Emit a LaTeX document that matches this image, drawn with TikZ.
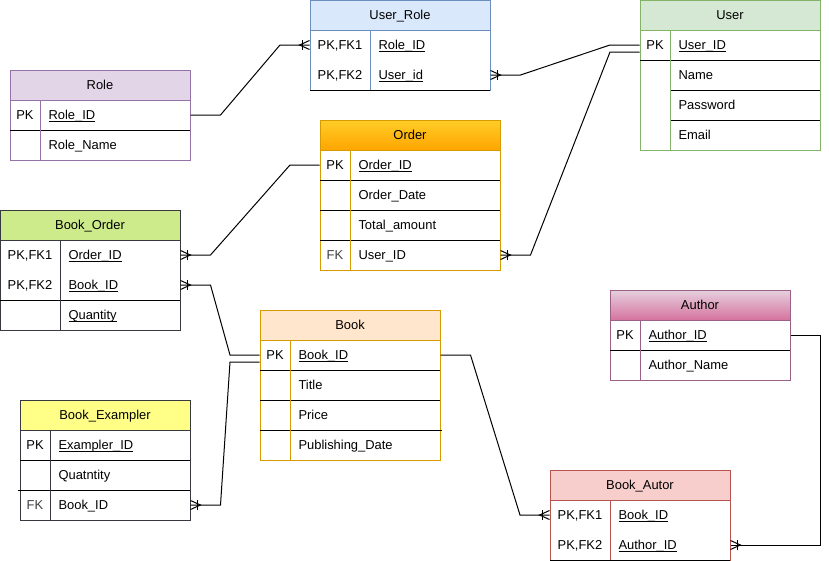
\documentclass[tikz,border=0pt]{standalone}
\usepackage{fontspec}
\setmainfont{Liberation Sans}
\usetikzlibrary{calc}

\definecolor{roleFill}{HTML}{E1D5E7}
\definecolor{roleLine}{HTML}{9673A6}
\definecolor{urFill}{HTML}{DAE8FC}
\definecolor{urLine}{HTML}{6C8EBF}
\definecolor{userFill}{HTML}{D5E8D4}
\definecolor{userLine}{HTML}{82B366}
\definecolor{orderTop}{HTML}{FFCD28}
\definecolor{orderBot}{HTML}{FFA500}
\definecolor{orderLine}{HTML}{D79B00}
\definecolor{boFill}{HTML}{CDEB8B}
\definecolor{darkLine}{HTML}{36393D}
\definecolor{bookFill}{HTML}{FFE6CC}
\definecolor{authTop}{HTML}{E6D0DE}
\definecolor{authBot}{HTML}{D5739D}
\definecolor{authLine}{HTML}{996185}
\definecolor{bexFill}{HTML}{FFFF88}
\definecolor{baFill}{HTML}{F8CECC}
\definecolor{baLine}{HTML}{B85450}

% underlined key field
\newcommand{\ulk}[1]{\setbox0\hbox{#1}\rlap{\rule[-1.3pt]{\wd0}{0.6pt}}\box0}

\tikzset{every picture/.style={line width=0.75pt},
  hdr/.style={minimum width=135pt, minimum height=22.5pt, inner sep=0pt, text height=7pt, text depth=0pt, font=\fontsize{9.7}{11}\selectfont},
  kcol/.style={inner sep=0pt, text height=7pt, text depth=0pt, font=\fontsize{9.7}{11}\selectfont},
  fcol/.style={kcol, anchor=west},
  crow/.pic={\draw (0,-4.5) -- (10,0) -- (0,4.5); \draw (7,-5) -- (7,5);}
}

\begin{document}
\begin{tikzpicture}[x=0.75pt,y=0.75pt,yscale=-1,xscale=1]
\useasboundingbox (0,0) rectangle (829,561);

%Table: Role
\node [hdr, fill=roleFill, draw=roleLine] (roleT) at (100,85) {Role};
\draw [roleLine, fill=white] (10,100) rectangle (190,160);
\draw (10,130) -- (190,130);
\draw [roleLine] (40,100) -- (40,160);
\node [kcol] (roleK1) at (25,115) {PK};
\node [fcol] (roleF1) at (48,115) {\ulk{Role\_ID}};
\node [fcol] (roleF2) at (48,145) {Role\_Name};

%Table: User_Role
\node [hdr, fill=urFill, draw=urLine] (urT) at (400,15) {User\_Role};
\draw [urLine, fill=white] (310,30) rectangle (490,90);
\draw [urLine] (370,30) -- (370,90);
\draw (310,90) -- (490,90);
\node [kcol] (urK1) at (340,45) {PK,FK1};
\node [kcol] (urK2) at (340,75) {PK,FK2};
\node [fcol] (urF1) at (378,45) {\ulk{Role\_ID}};
\node [fcol] (urF2) at (378,75) {\ulk{User\_id}};

%Table: User
\node [hdr, fill=userFill, draw=userLine] (userT) at (730,15) {User};
\draw [userLine, fill=white] (640,30) rectangle (820,150);
\draw (640,60) -- (820,60);
\draw (670,90) -- (820,90);
\draw (670,120) -- (820,120);
\draw [userLine] (670,30) -- (670,150);
\node [kcol] (userK1) at (655,45) {PK};
\node [fcol] (userF1) at (678,45) {\ulk{User\_ID}};
\node [fcol] (userF2) at (678,75) {Name};
\node [fcol] (userF3) at (678,105) {Password};
\node [fcol] (userF4) at (678,135) {Email};

%Table: Order
\node [hdr, top color=orderTop, bottom color=orderBot, draw=orderLine] (orderT) at (410,135) {Order};
\draw [orderLine, fill=white] (320,150) rectangle (500,270);
\draw (320,180) -- (500,180);
\draw (320,210) -- (500,210);
\draw (320,240) -- (500,240);
\draw [orderLine] (350,150) -- (350,270);
\node [kcol] (orderK1) at (335,165) {PK};
\node [kcol, text=black!75] (orderK4) at (335,255) {FK};
\node [fcol] (orderF1) at (358,165) {\ulk{Order\_ID}};
\node [fcol] (orderF2) at (358,195) {Order\_Date};
\node [fcol] (orderF3) at (358,225) {Total\_amount};
\node [fcol] (orderF4) at (358,255) {User\_ID};

%Table: Book_Order
\node [hdr, fill=boFill, draw=darkLine] (boT) at (90,225) {Book\_Order};
\draw [darkLine, fill=white] (0,240) rectangle (180,330);
\draw (0,300) -- (180,300);
\draw [darkLine] (60,240) -- (60,330);
\node [kcol] (boK1) at (30,255) {PK,FK1};
\node [kcol] (boK2) at (30,285) {PK,FK2};
\node [fcol] (boF1) at (68,255) {\ulk{Order\_ID}};
\node [fcol] (boF2) at (68,285) {\ulk{Book\_ID}};
\node [fcol] (boF3) at (68,315) {\ulk{Quantity}};

%Table: Book
\node [hdr, fill=bookFill, draw=orderLine] (bookT) at (350,325) {Book};
\draw [orderLine, fill=white] (260,340) rectangle (440,460);
\draw (260,370) -- (440,370);
\draw (260,400) -- (440,400);
\draw (260,430) -- (442,430);
\draw [orderLine] (290,340) -- (290,460);
\node [kcol] (bookK1) at (275,355) {PK};
\node [fcol] (bookF1) at (298,355) {\ulk{Book\_ID}};
\node [fcol] (bookF2) at (298,385) {Title};
\node [fcol] (bookF3) at (298,415) {Price};
\node [fcol] (bookF4) at (298,445) {Publishing\_Date};

%Table: Author
\node [hdr, top color=authTop, bottom color=authBot, draw=authLine] (authT) at (700,305) {Author};
\draw [authLine, fill=white] (610,320) rectangle (790,380);
\draw (610,350) -- (790,350);
\draw [authLine] (640,320) -- (640,380);
\node [kcol] (authK1) at (625,335) {PK};
\node [fcol] (authF1) at (648,335) {\ulk{Author\_ID}};
\node [fcol] (authF2) at (648,365) {Author\_Name};

%Table: Book_Exampler
\node [hdr, minimum width=127.5pt, fill=bexFill, draw=darkLine] (bexT) at (105,415) {Book\_Exampler};
\draw [darkLine, fill=white] (20,430) rectangle (190,520);
\draw (20,460) -- (190,460);
\draw (18,490) -- (190,490);
\draw [darkLine] (50,430) -- (50,520);
\node [kcol] (bexK1) at (35,445) {PK};
\node [kcol, text=black!75] (bexK3) at (35,505) {FK};
\node [fcol] (bexF1) at (58,445) {\ulk{Exampler\_ID}};
\node [fcol] (bexF2) at (58,475) {Quatntity};
\node [fcol] (bexF3) at (58,505) {Book\_ID};

%Table: Book_Autor
\node [hdr, fill=baFill, draw=baLine] (baT) at (640,485) {Book\_Autor};
\draw [baLine, fill=white] (550,500) rectangle (730,560);
\draw [baLine] (610,500) -- (610,560);
\draw (550,560) -- (730,560);
\node [kcol] (baK1) at (580,515) {PK,FK1};
\node [kcol] (baK2) at (580,545) {PK,FK2};
\node [fcol] (baF1) at (618,515) {\ulk{Book\_ID}};
\node [fcol] (baF2) at (618,545) {\ulk{Author\_ID}};

%Relations
\draw (roleT.east |- roleF1) -- ++(30,0) -- (280,45) -- (urT.west |- urF1);
\pic [rotate=180] at (urT.west |- urF1) {crow};
\draw (urT.east |- urF2) -- ++(30,0) -- (610,45) -- (userT.west |- userF1);
\pic at (urT.east |- urF2) {crow};
\draw (orderT.east |- orderF4) -- ++(30,0) -- (610,52) -- ($(userT.west |- userF1)+(0,7)$);
\pic at (orderT.east |- orderF4) {crow};
\draw (boT.east |- boF1) -- ++(30,0) -- (290,165) -- (orderT.west |- orderF1);
\pic at (boT.east |- boF1) {crow};
\draw (boT.east |- boF2) -- ++(30,0) -- (230,355) -- (bookT.west |- bookF1);
\pic at (boT.east |- boF2) {crow};
\draw (bexT.east |- bexF3) -- ++(30,0) -- (230,362) -- ($(bookT.west |- bookF1)+(0,7)$);
\pic at (bexT.east |- bexF3) {crow};
\draw (bookT.east |- bookF1) -- ++(30,0) -- (520,515) -- (baT.west |- baF1);
\pic [rotate=180] at (baT.west |- baF1) {crow};
\draw (authT.east |- authF1) -- (820,335) -- (820,545) -- (baT.east |- baF2);
\pic at (baT.east |- baF2) {crow};

\end{tikzpicture}
\end{document}
